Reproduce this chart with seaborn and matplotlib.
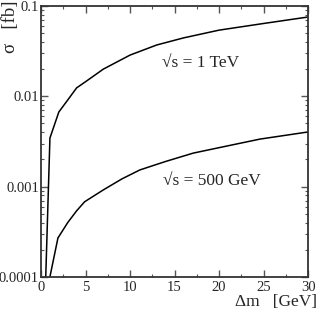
import numpy as np
import pandas as pd
import matplotlib
matplotlib.use("Agg")
import matplotlib.pyplot as plt
import matplotlib.ticker as mticker
import seaborn as sns

# cross section vs mass splitting
dm_1tev = [0.5, 1, 2, 3, 4, 5, 7, 10, 13, 16, 20, 25, 30]
sigma_1tev = [8e-5, 0.00345, 0.0067, 0.0091, 0.0124, 0.0145, 0.020, 0.0286, 0.037, 0.0443, 0.054, 0.064, 0.0755]

dm_500 = [0.9, 1.9, 3, 4, 4.9, 7, 9.1, 11.1, 14, 17.1, 20, 24.6, 30]
sigma_500 = [9e-5, 0.00027, 0.00040, 0.00054, 0.00068, 0.00092, 0.00122, 0.00153, 0.0019, 0.00235, 0.0027, 0.00336, 0.00403]

curve_labels = ["√s = 1 TeV", "√s = 500 GeV"]
label_pos = [(17.9, 0.0234), (19.2, 0.00115)]
ytick_vals = [0.0001, 0.001, 0.01, 0.1]
ytick_text = ["0.0001", "0.001", "0.01", "0.1"]


def make_plot():
    df = pd.concat([
        pd.DataFrame({"dm": dm_1tev, "sigma": sigma_1tev, "curve": curve_labels[0]}),
        pd.DataFrame({"dm": dm_500, "sigma": sigma_500, "curve": curve_labels[1]}),
    ])

    sns.set_style("ticks")
    plt.rcParams["font.family"] = ["Liberation Serif", "DejaVu Serif"]

    fig = plt.figure(figsize=(3.18, 3.14), dpi=100)
    ax = fig.add_axes([0.129, 0.118, 0.840, 0.863])

    sns.lineplot(data=df, x="dm", y="sigma", units="curve", estimator=None,
                 color="black", linewidth=1.1, sort=False, legend=False, ax=ax)

    ax.set_yscale("log")
    ax.set_xlim(0, 30)
    ax.set_ylim(0.0001, 0.1)

    ax.xaxis.set_major_locator(mticker.MultipleLocator(5))
    ax.xaxis.set_minor_locator(mticker.MultipleLocator(2.5))
    ax.set_yticks(ytick_vals)
    ax.set_yticklabels(ytick_text)
    ax.yaxis.set_minor_locator(mticker.LogLocator(base=10, subs=np.arange(2, 10)))
    ax.yaxis.set_minor_formatter(mticker.NullFormatter())

    ax.tick_params(which="both", direction="in", top=True, right=True,
                   color="#555555", labelsize=10.5)
    ax.tick_params(axis="y", pad=1.5)
    ax.tick_params(axis="x", pad=3)
    ax.tick_params(which="major", length=5, width=1)
    ax.tick_params(which="minor", length=2.5, width=0.8)
    for sp in ax.spines.values():
        sp.set_linewidth(1.3)
        sp.set_color("#333333")

    ax.set_xlabel("Δm   [GeV]", fontsize=12.5, loc="right")
    ax.set_ylabel("σ   [fb]", fontsize=13.5, loc="top")
    ax.xaxis.set_label_coords(1.034, -0.062)
    ax.yaxis.set_label_coords(-0.082, 1.022)

    for txt, (x, y) in zip(curve_labels, label_pos):
        ax.text(x, y, txt, fontsize=12.5, ha="center", va="center")

    plt.savefig("out.png", dpi=100)
    plt.close()


if __name__ == "__main__":
    make_plot()
